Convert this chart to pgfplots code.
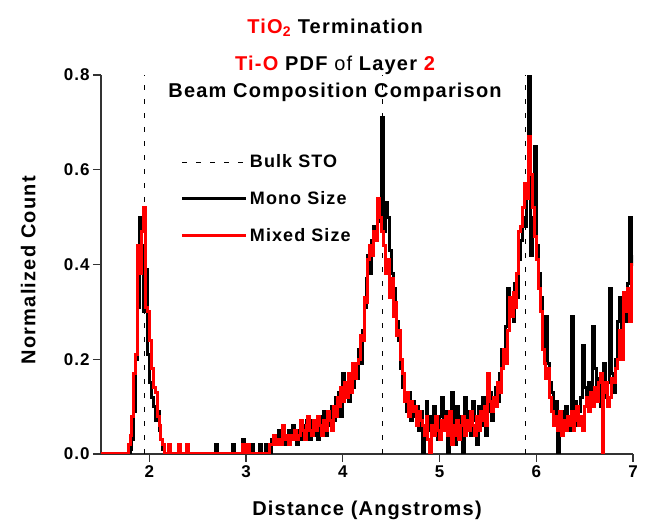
\documentclass[border=0pt]{standalone}
\usepackage{pgfplots}
\usepackage{pgfplotstable}
\pgfplotsset{compat=1.18}
\usepackage{fontspec}
\setmainfont{Liberation Sans}
\newfontfamily\spaced[LetterSpace=6]{Liberation Sans}

% Ti-O pair distribution, layer 2 (x, mono size, mixed size)
\pgfplotstableread{
x mono mixed
1.50 0 0
1.78 0 0.02
1.80 0.01 0.04
1.82 0.03 0.08
1.84 0.09 0.17
1.86 0.20 0.21
1.88 0.31 0.44
1.90 0.50 0.38
1.92 0.44 0.47
1.94 0.30 0.52
1.96 0.39 0.31
1.98 0.21 0.30
2.00 0.15 0.24
2.02 0.12 0.18
2.04 0.10 0.14
2.06 0.07 0.13
2.08 0.09 0.08
2.10 0.05 0.06
2.12 0.03 0.03
2.14 0.01 0.02
2.16 0 0
2.20 0 0.02
2.22 0 0
2.30 0 0.02
2.32 0 0
2.38 0 0.02
2.40 0 0
2.68 0.02 0
2.70 0 0
2.86 0.02 0
2.88 0 0
2.96 0.03 0.02
2.98 0 0
3.00 0.02 0.02
3.02 0 0.02
3.04 0 0
3.06 0.02 0
3.08 0 0
3.14 0.02 0
3.16 0 0
3.20 0.02 0
3.22 0 0
3.24 0 0.02
3.26 0.03 0.02
3.28 0.02 0.04
3.30 0.04 0.02
3.32 0.02 0.03
3.34 0.05 0.03
3.36 0.03 0.02
3.38 0.04 0.06
3.40 0.02 0.03
3.42 0.03 0.04
3.44 0.05 0.02
3.46 0.03 0.04
3.48 0.06 0.03
3.50 0.04 0.05
3.52 0.02 0.03
3.54 0.05 0.04
3.56 0.03 0.07
3.58 0.06 0.05
3.60 0.04 0.03
3.62 0.07 0.06
3.64 0.05 0.08
3.66 0.03 0.05
3.68 0.07 0.04
3.70 0.04 0.07
3.72 0.06 0.05
3.74 0.03 0.08
3.76 0.08 0.06
3.78 0.05 0.04
3.80 0.09 0.07
3.82 0.04 0.05
3.84 0.08 0.09
3.86 0.06 0.07
3.88 0.10 0.05
3.90 0.07 0.10
3.92 0.12 0.08
3.94 0.09 0.12
3.96 0.13 0.10
3.98 0.08 0.14
4.00 0.17 0.11
4.02 0.12 0.15
4.04 0.15 0.12
4.06 0.11 0.17
4.08 0.17 0.13
4.10 0.14 0.19
4.12 0.19 0.16
4.14 0.16 0.19
4.16 0.22 0.20
4.18 0.19 0.25
4.20 0.26 0.24
4.22 0.31 0.33
4.24 0.37 0.32
4.26 0.42 0.41
4.28 0.38 0.44
4.30 0.45 0.42
4.32 0.48 0.47
4.34 0.46 0.45
4.36 0.52 0.54
4.38 0.49 0.50
4.40 0.71 0.47
4.42 0.47 0.44
4.44 0.53 0.38
4.46 0.50 0.41
4.48 0.43 0.33
4.50 0.38 0.37
4.52 0.35 0.29
4.54 0.31 0.32
4.56 0.28 0.25
4.58 0.24 0.26
4.60 0.18 0.20
4.62 0.14 0.17
4.64 0.12 0.11
4.66 0.09 0.13
4.68 0.13 0.08
4.70 0.07 0.11
4.72 0.11 0.09
4.74 0.08 0.10
4.76 0.10 0.06
4.78 0.05 0.09
4.80 0.09 0.07
4.82 0.00 0.06
4.84 0.06 0.04
4.86 0.11 0.08
4.88 0.05 0.03
4.90 0.08 0.00
4.92 0.04 0.06
4.94 0.10 0.04
4.96 0.06 0.08
4.98 0.03 0.05
5.00 0.08 0.03
5.02 0.12 0.07
5.04 0.05 0.05
5.06 0.09 0.08
5.08 0.00 0.04
5.10 0.07 0.09
5.12 0.13 0.02
5.14 0.06 0.06
5.16 0.02 0.04
5.18 0.10 0.07
5.20 0.05 0.03
5.22 0.08 0.06
5.24 0.00 0.08
5.26 0.12 0.04
5.28 0.06 0.07
5.30 0.09 0.05
5.32 0.04 0.09
5.34 0.11 0.06
5.36 0.07 0.04
5.38 0.02 0.08
5.40 0.10 0.05
5.42 0.06 0.09
5.44 0.12 0.07
5.46 0.08 0.10
5.48 0.04 0.06
5.50 0.09 0.17
5.52 0.13 0.11
5.54 0.07 0.09
5.56 0.10 0.12
5.58 0.14 0.10
5.60 0.11 0.15
5.62 0.17 0.13
5.64 0.22 0.18
5.66 0.20 0.22
5.68 0.27 0.19
5.70 0.35 0.26
5.72 0.30 0.33
5.74 0.33 0.29
5.76 0.28 0.34
5.78 0.36 0.31
5.80 0.33 0.38
5.82 0.41 0.47
5.84 0.45 0.48
5.86 0.50 0.52
5.88 0.48 0.57
5.90 0.55 0.54
5.92 0.80 0.67
5.94 0.42 0.59
5.96 0.50 0.52
5.98 0.65 0.46
6.00 0.44 0.41
6.02 0.38 0.35
6.04 0.33 0.30
6.06 0.25 0.22
6.08 0.21 0.19
6.10 0.29 0.16
6.12 0.19 0.18
6.14 0.15 0.12
6.16 0.13 0.09
6.18 0.08 0.06
6.20 0.11 0.08
6.22 0.00 0.05
6.24 0.07 0.09
6.26 0.09 0.04
6.28 0.06 0.07
6.30 0.10 0.05
6.32 0.08 0.08
6.34 0.05 0.06
6.36 0.29 0.09
6.38 0.08 0.05
6.40 0.11 0.07
6.42 0.06 0.10
6.44 0.09 0.06
6.46 0.12 0.08
6.48 0.23 0.05
6.50 0.14 0.10
6.52 0.10 0.12
6.54 0.15 0.09
6.56 0.12 0.13
6.58 0.27 0.10
6.60 0.18 0.14
6.62 0.13 0.11
6.64 0.16 0.15
6.66 0.10 0.17
6.68 0.14 0.00
6.70 0.19 0.13
6.72 0.12 0.15
6.74 0.15 0.10
6.76 0.35 0.12
6.78 0.17 0.16
6.80 0.13 0.15
6.82 0.20 0.18
6.84 0.28 0.20
6.86 0.33 0.26
6.88 0.26 0.20
6.90 0.31 0.34
6.92 0.28 0.30
6.94 0.36 0.35
6.96 0.50 0.28
6.98 0.40 0.40
7.00 0.42 0.40
}\pdfdata

\newcommand{\lblfont}{\spaced\fontsize{20}{20}\selectfont\bfseries}

\begin{document}
\begin{tikzpicture}
\begin{axis}[
    scale only axis,
    width=532pt, height=379pt,
    xmin=1.5, xmax=7, ymin=0, ymax=0.8,
    axis x line*=bottom, axis y line*=left,
    axis line style={line width=1.2pt, black!80, -},
    xtick={2,3,4,5,6,7},
    ytick={0,0.2,0.4,0.6,0.8},
    yticklabel style={/pgf/number format/.cd, fixed, fixed zerofill, precision=1},
    /pgf/number format/assume math mode=true,
    tick align=outside,
    major tick length=8pt,
    tick style={line width=1.2pt, black!80},
    ticklabel style={font=\spaced\fontsize{17}{17}\selectfont\bfseries},
    xlabel={Distance (Angstroms)},
    ylabel={Normalized Count},
    label style={font=\lblfont},
    xlabel style={at={(axis description cs:0.5,0)}, anchor=center, yshift=-56pt},
    ylabel style={at={(axis description cs:-0.137,0.485)}, anchor=center},
    clip mode=individual,
    legend style={draw=none, fill=none, inner sep=0pt,
        at={(rel axis cs:0.15,0.795)}, anchor=north west,
        font=\spaced\fontsize{18}{18}\selectfont\bfseries, row sep=18pt},
    legend cell align=left,
    legend image code/.code={\draw[#1] (0pt,0pt) -- (64pt,0pt);},
]
% bulk STO reference distances
\addplot[black, line width=1pt, dash pattern=on 5pt off 9pt] coordinates {(1.948,0) (1.948,0.8)};
\addlegendentry{Bulk STO}
\addplot[black, line width=1pt, dash pattern=on 5pt off 9pt, forget plot] coordinates {(4.413,0) (4.413,0.8)};
\addplot[black, line width=1pt, dash pattern=on 5pt off 9pt, forget plot] coordinates {(5.892,0) (5.892,0.8)};

\addplot[black, line width=3pt, const plot] table[x=x, y=mono] {\pdfdata};
\addlegendentry{Mono Size}
\addplot[red, line width=3pt, const plot] table[x=x, y=mixed] {\pdfdata};
\addlegendentry{Mixed Size}

\node[font=\lblfont] at (rel axis cs:0.44,1.125) {\textcolor{red}{TiO\textsubscript{2}} Termination};
\node[font=\lblfont] at (rel axis cs:0.44,1.025) {\textcolor{red}{Ti-O} PDF \mdseries of \bfseries Layer \textcolor{red}{2}};
\node[font=\lblfont] at (rel axis cs:0.44,0.955) {Beam Composition Comparison};
\coordinate (ll) at (rel axis cs:0,0);
\end{axis}
\pgfresetboundingbox
\path ([shift={(-101pt,-70pt)}]ll) rectangle ([shift={(549pt,454pt)}]ll);
\end{tikzpicture}
\end{document}
